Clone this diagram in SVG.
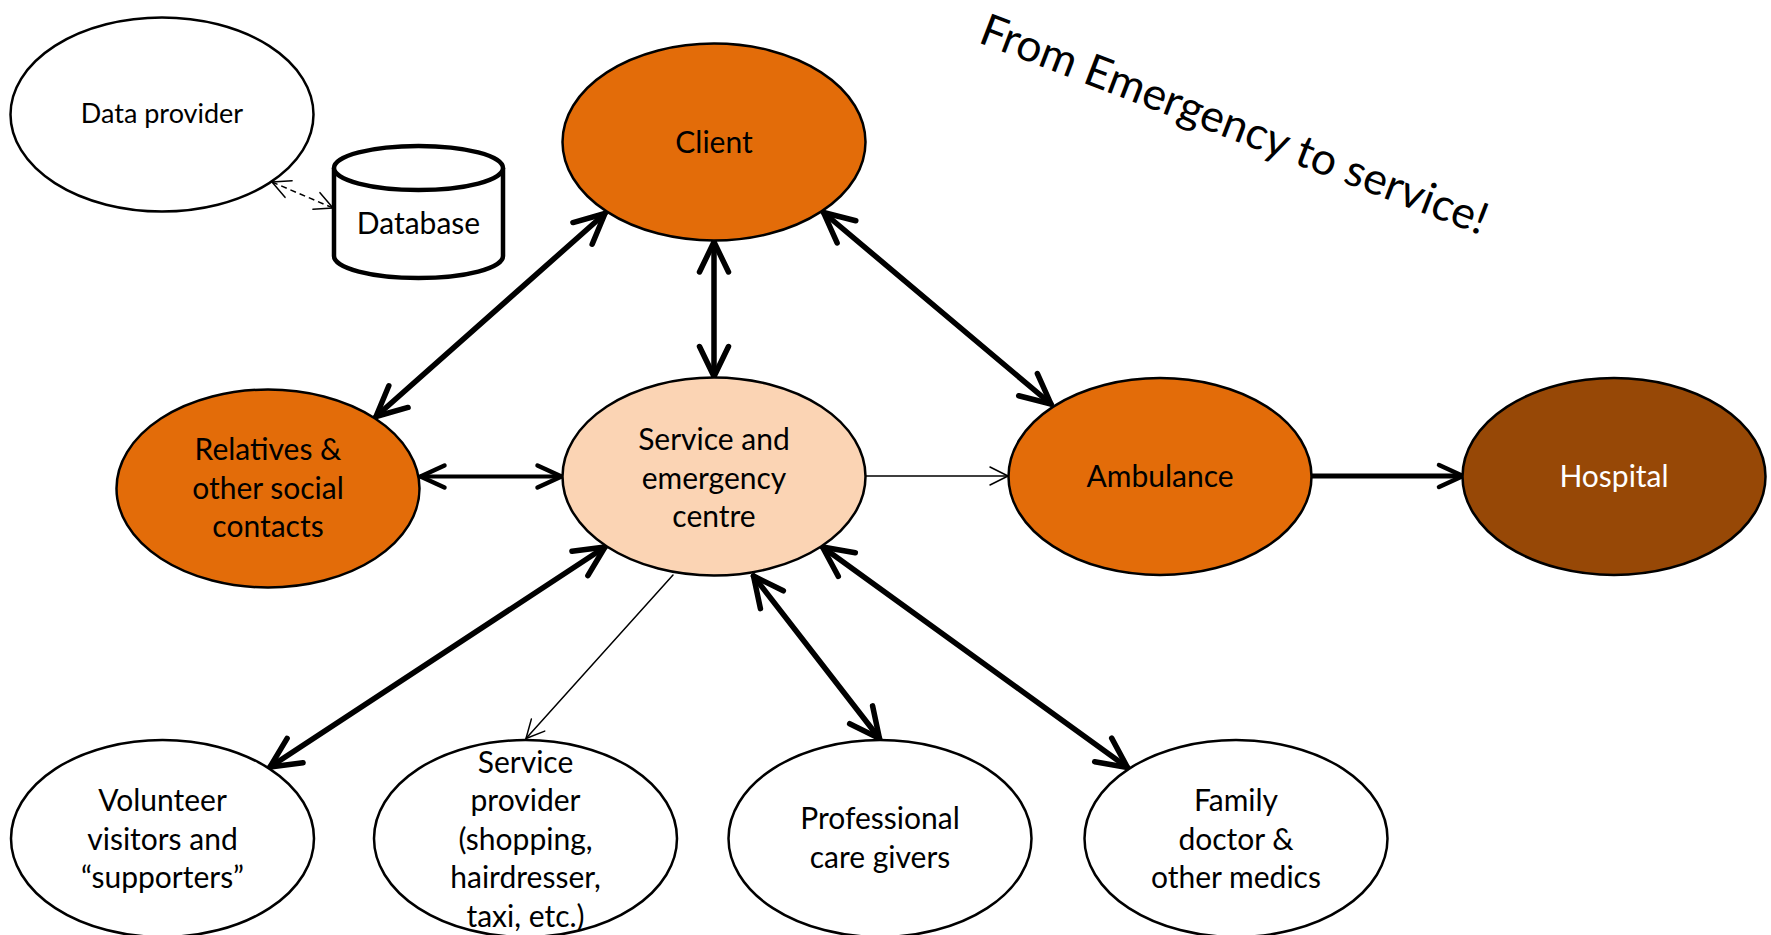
<svg xmlns="http://www.w3.org/2000/svg" width="1771" height="935" viewBox="0 0 1771 935">
<style>
  .node { stroke: #000; stroke-width: 2.5; }
  .white { fill: #ffffff; }
  .orange { fill: #E36C09; }
  .light { fill: #FBD4B4; }
  .brown { fill: #974806; }
  text { font-family: "Lato", "Carlito", "Open Sans", sans-serif; font-size: 30px; text-anchor: middle; fill: #000; }
  .wt { fill: #ffffff; }
  .c { fill: none; stroke: #000; stroke-linecap: round; }
  .thick { stroke-width: 5.5; }
  .med { stroke-width: 4; }
  .thin { stroke-width: 1.5; }
  .dash { stroke-width: 1.5; stroke-dasharray: 6 4; stroke-linecap: butt; }
</style>
<defs>
  <marker id="hThick" markerUnits="userSpaceOnUse" orient="auto-start-reverse" refX="0" refY="0" markerWidth="80" markerHeight="80" viewBox="-40 -40 80 80" overflow="visible">
    <path d="M-30,-14.5 L0,0 L-30,14.5" fill="none" stroke="#000" stroke-width="5.5" stroke-linecap="round" stroke-linejoin="round"/>
  </marker>
  <marker id="hMed" markerUnits="userSpaceOnUse" orient="auto-start-reverse" refX="0" refY="0" markerWidth="80" markerHeight="80" viewBox="-40 -40 80 80" overflow="visible">
    <path d="M-24,-11 L0,0 L-24,11" fill="none" stroke="#000" stroke-width="4.5" stroke-linecap="round" stroke-linejoin="round"/>
  </marker>
  <marker id="hThin" markerUnits="userSpaceOnUse" orient="auto-start-reverse" refX="0" refY="0" markerWidth="60" markerHeight="60" viewBox="-30 -30 60 60" overflow="visible">
    <path d="M-18,-9 L0,0 L-18,9" fill="none" stroke="#000" stroke-width="1.5" stroke-linecap="round" stroke-linejoin="round"/>
  </marker>
</defs>

<g id="connectors">
  <line class="c dash" x1="272" y1="182" x2="333" y2="208" marker-start="url(#hThin)" marker-end="url(#hThin)"/>
  <line class="c thick" x1="605" y1="213.5" x2="376" y2="416.5" marker-start="url(#hThick)" marker-end="url(#hThick)"/>
  <line class="c thick" x1="714" y1="242" x2="714" y2="376.5" marker-start="url(#hThick)" marker-end="url(#hThick)"/>
  <line class="c thick" x1="823.5" y1="212.5" x2="1051" y2="404" marker-start="url(#hThick)" marker-end="url(#hThick)"/>
  <line class="c med" x1="420.5" y1="476.5" x2="561.5" y2="476.5" marker-start="url(#hMed)" marker-end="url(#hMed)"/>
  <line class="c thin" x1="866" y1="476" x2="1008" y2="476" marker-end="url(#hThin)"/>
  <line class="c thick" x1="1311" y1="476" x2="1463" y2="476" marker-end="url(#hMed)" style="stroke-width:5"/>
  <line class="c thick" x1="605" y1="547" x2="270" y2="767" marker-start="url(#hThick)" marker-end="url(#hThick)"/>
  <line class="c thin" x1="673" y1="575" x2="526" y2="738.5" marker-end="url(#hThin)"/>
  <line class="c thick" x1="753.5" y1="576" x2="879.5" y2="738.5" marker-start="url(#hThick)" marker-end="url(#hThick)"/>
  <line class="c thick" x1="822.5" y1="547" x2="1127.5" y2="767.5" marker-start="url(#hThick)" marker-end="url(#hThick)"/>
</g>

<g id="data-provider">
  <ellipse class="node white" cx="162" cy="114.5" rx="151.5" ry="97"/>
  <text x="162" y="123" style="font-size:27px">Data provider</text>
</g>

<g id="database">
  <path d="M334,168 L334,256 A84.5,22 0 0 0 503,256 L503,168" fill="#fff" stroke="#000" stroke-width="4.5"/>
  <ellipse cx="418.5" cy="168" rx="84.5" ry="22" fill="#fff" stroke="#000" stroke-width="4.5"/>
  <text x="418.5" y="233.5">Database</text>
</g>

<g id="client">
  <ellipse class="node orange" cx="714" cy="142" rx="151.5" ry="98.5"/>
  <text x="714" y="152.5">Client</text>
</g>

<g id="relatives">
  <ellipse class="node orange" cx="268" cy="488.5" rx="151.5" ry="99"/>
  <text x="268" y="460">Relatives &amp;</text>
  <text x="268" y="498.5">other social</text>
  <text x="268" y="537">contacts</text>
</g>

<g id="service-centre">
  <ellipse class="node light" cx="714" cy="476.5" rx="151.5" ry="99"/>
  <text x="714" y="450">Service and</text>
  <text x="714" y="488.5">emergency</text>
  <text x="714" y="527">centre</text>
</g>

<g id="ambulance">
  <ellipse class="node orange" cx="1160" cy="476.5" rx="151.5" ry="98.5"/>
  <text x="1160" y="487">Ambulance</text>
</g>

<g id="hospital">
  <ellipse class="node brown" cx="1614" cy="476.5" rx="151.5" ry="98.5"/>
  <text class="wt" x="1614" y="487">Hospital</text>
</g>

<g id="volunteer">
  <ellipse class="node white" cx="162.5" cy="838.5" rx="151.5" ry="98.5"/>
  <text x="162.5" y="811">Volunteer</text>
  <text x="162.5" y="849.5">visitors and</text>
  <text x="162.5" y="888">“supporters”</text>
</g>

<g id="service-provider">
  <ellipse class="node white" cx="525.5" cy="838.5" rx="151.5" ry="98.5"/>
  <text x="525.5" y="772.5">Service</text>
  <text x="525.5" y="811">provider</text>
  <text x="525.5" y="849.5">(shopping,</text>
  <text x="525.5" y="888">hairdresser,</text>
  <text x="525.5" y="926.5">taxi, etc.)</text>
</g>

<g id="professional">
  <ellipse class="node white" cx="880" cy="838.5" rx="151.5" ry="98.5"/>
  <text x="880" y="829">Professional</text>
  <text x="880" y="868">care givers</text>
</g>

<g id="family">
  <ellipse class="node white" cx="1236" cy="838.5" rx="151.5" ry="98.5"/>
  <text x="1236" y="811">Family</text>
  <text x="1236" y="849.5">doctor &amp;</text>
  <text x="1236" y="888">other medics</text>
</g>

<g id="title">
  <text transform="translate(977,42) rotate(21)" style="font-size:44.5px;text-anchor:start">From Emergency to service!</text>
</g>
</svg>
